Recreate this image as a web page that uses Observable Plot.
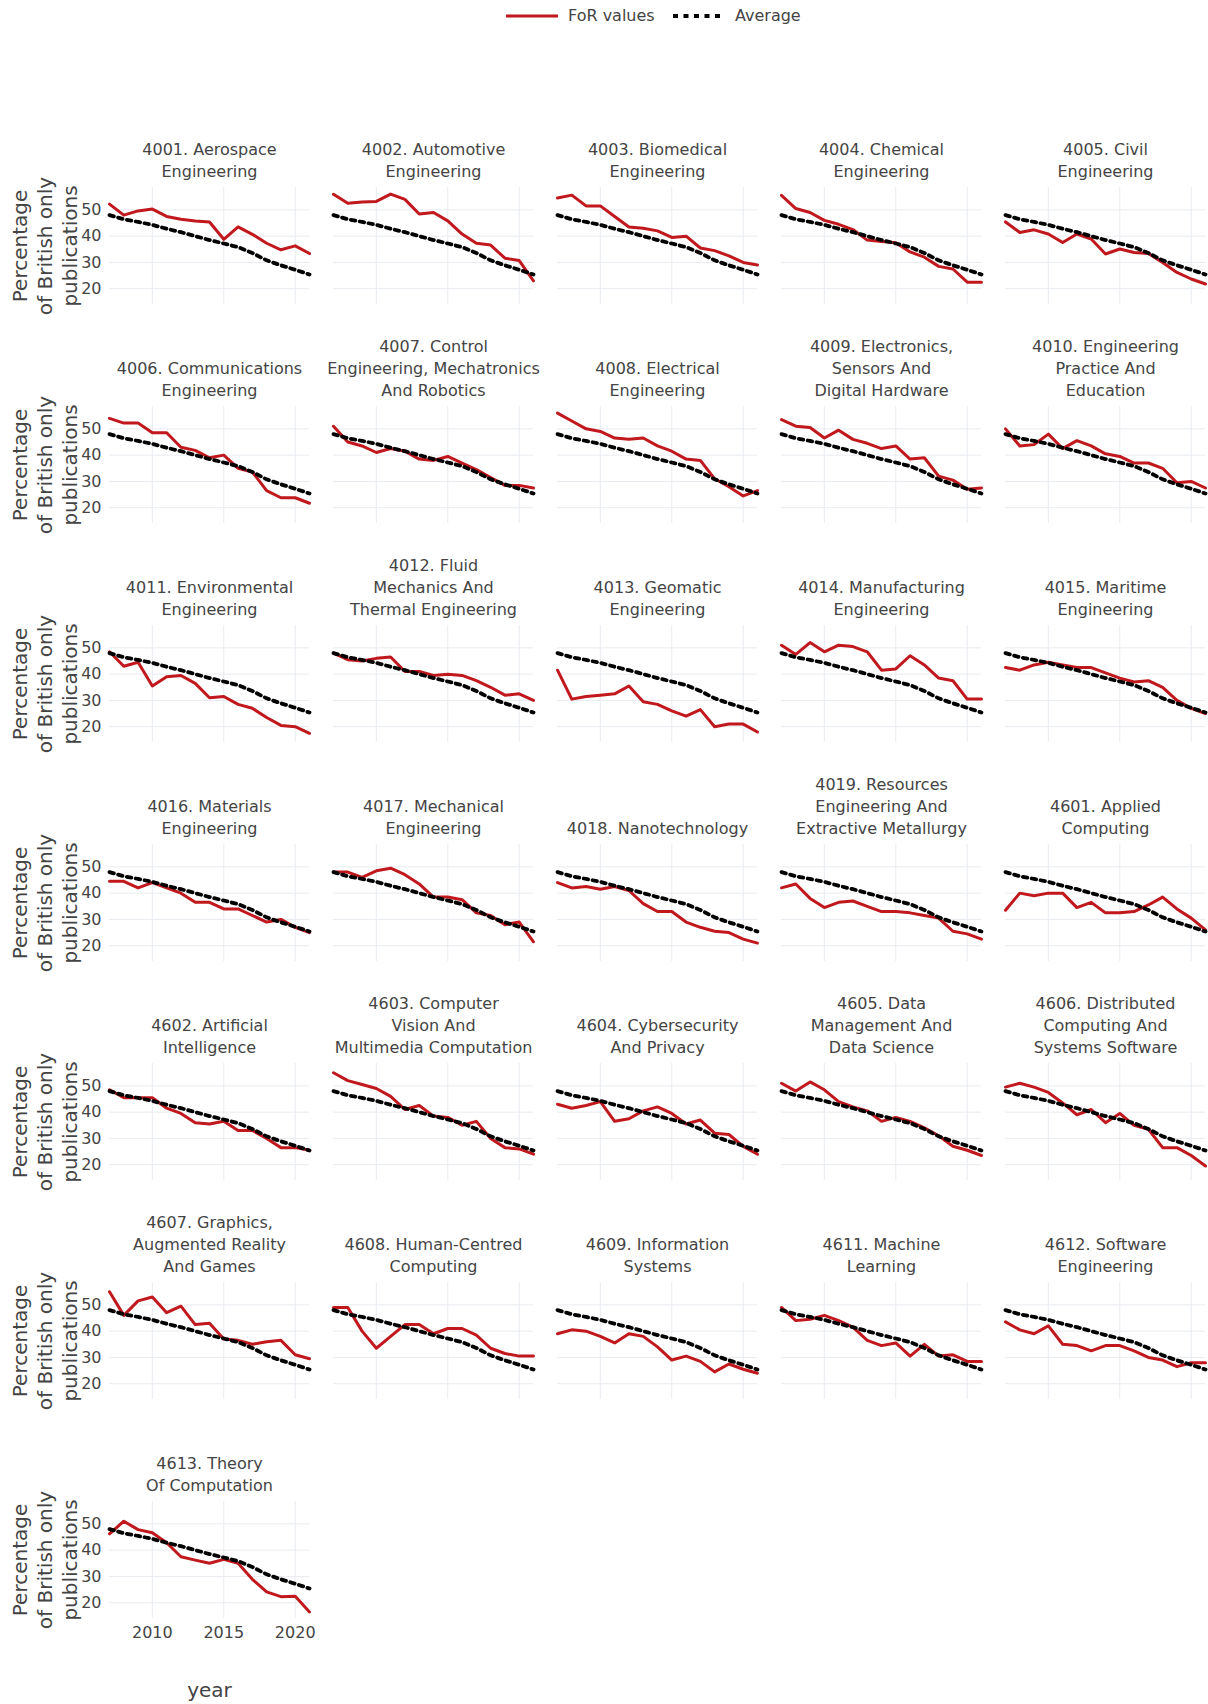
<!DOCTYPE html>
<html>
<head>
<meta charset="utf-8">
<script src="https://cdn.jsdelivr.net/npm/d3@7"></script>
<script src="https://cdn.jsdelivr.net/npm/@observablehq/plot@0.6"></script>
<style>
  html, body { margin: 0; padding: 0; background: #fff; }
  #legend { position: relative; width: 1208px; height: 36px; font: 16px "DejaVu Sans", Verdana, sans-serif; color: #444; }
  #legend span { position: absolute; top: 6px; line-height: 20px; white-space: nowrap; }
  #legend svg { position: absolute; top: 10px; }
</style>
</head>
<body>
<div id="legend">
  <svg style="left:506px" width="52" height="12"><line x1="0" x2="52" y1="6" y2="6" stroke="#c0181c" stroke-width="3"/></svg>
  <span style="left:568px">FoR values</span>
  <svg style="left:673px" width="48" height="12"><line x1="0" x2="48" y1="6" y2="6" stroke="#000" stroke-width="4" stroke-dasharray="5,5.5"/></svg>
  <span style="left:735px">Average</span>
</div>
<div id="chart"></div>
<script>
// Publication years on the x axis
const years = [2007, 2008, 2009, 2010, 2011, 2012, 2013, 2014, 2015, 2016, 2017, 2018, 2019, 2020, 2021];

// Field of Research (FoR) panel titles, in facet order
const fieldTitles = [
  "4001. Aerospace\nEngineering",
  "4002. Automotive\nEngineering",
  "4003. Biomedical\nEngineering",
  "4004. Chemical\nEngineering",
  "4005. Civil\nEngineering",
  "4006. Communications\nEngineering",
  "4007. Control\nEngineering, Mechatronics\nAnd Robotics",
  "4008. Electrical\nEngineering",
  "4009. Electronics,\nSensors And\nDigital Hardware",
  "4010. Engineering\nPractice And\nEducation",
  "4011. Environmental\nEngineering",
  "4012. Fluid\nMechanics And\nThermal Engineering",
  "4013. Geomatic\nEngineering",
  "4014. Manufacturing\nEngineering",
  "4015. Maritime\nEngineering",
  "4016. Materials\nEngineering",
  "4017. Mechanical\nEngineering",
  "4018. Nanotechnology",
  "4019. Resources\nEngineering And\nExtractive Metallurgy",
  "4601. Applied\nComputing",
  "4602. Artificial\nIntelligence",
  "4603. Computer\nVision And\nMultimedia Computation",
  "4604. Cybersecurity\nAnd Privacy",
  "4605. Data\nManagement And\nData Science",
  "4606. Distributed\nComputing And\nSystems Software",
  "4607. Graphics,\nAugmented Reality\nAnd Games",
  "4608. Human-Centred\nComputing",
  "4609. Information\nSystems",
  "4611. Machine\nLearning",
  "4612. Software\nEngineering",
  "4613. Theory\nOf Computation"
];

// Percentage of British-only publications per field, 2007–2021
const forValues = [
  [52.2, 48.0, 49.6, 50.3, 47.5, 46.4, 45.8, 45.4, 38.8, 43.5, 40.7, 37.3, 34.8, 36.3, 33.4],
  [55.9, 52.5, 53.0, 53.2, 56.0, 54.0, 48.4, 49.0, 45.8, 40.8, 37.3, 36.6, 31.6, 30.7, 23.0],
  [54.5, 55.6, 51.5, 51.5, 47.5, 43.5, 43.0, 42.0, 39.5, 40.0, 35.5, 34.5, 32.5, 30.0, 29.0],
  [55.5, 50.5, 49.0, 46.0, 44.5, 42.5, 38.5, 38.0, 37.5, 34.0, 32.0, 28.5, 27.5, 22.5, 22.5],
  [45.4, 41.4, 42.4, 40.8, 37.6, 40.8, 38.9, 33.2, 35.1, 33.8, 33.4, 30.0, 26.2, 23.7, 21.8],
  [54.0, 52.2, 52.2, 48.5, 48.5, 43.0, 41.8, 39.0, 40.0, 35.0, 33.6, 26.5, 23.8, 23.8, 21.7],
  [51.0, 45.0, 43.5, 41.0, 42.5, 41.5, 38.5, 38.0, 39.5, 37.0, 34.5, 31.5, 28.5, 28.5, 27.5],
  [56.0, 53.0, 50.0, 49.0, 46.5, 46.0, 46.5, 43.5, 41.5, 38.5, 38.0, 31.0, 28.0, 24.5, 26.5],
  [53.5, 51.0, 50.5, 46.5, 49.5, 46.0, 44.5, 42.5, 43.5, 38.5, 39.0, 32.0, 30.5, 27.0, 27.5],
  [50.0, 43.5, 44.0, 48.0, 42.5, 45.5, 43.5, 40.5, 39.5, 37.0, 37.0, 35.0, 29.5, 30.0, 27.5],
  [48.5, 43.0, 44.5, 35.5, 39.0, 39.5, 36.5, 31.0, 31.5, 28.5, 27.0, 23.5, 20.5, 20.0, 17.5],
  [48.0, 45.5, 45.0, 46.0, 46.5, 41.0, 41.0, 39.5, 40.0, 39.5, 37.5, 35.0, 32.0, 32.5, 30.0],
  [41.5, 30.5, 31.5, 32.0, 32.5, 35.5, 29.5, 28.5, 26.0, 24.0, 26.5, 20.0, 21.0, 21.0, 18.0],
  [51.0, 47.5, 52.0, 48.5, 51.0, 50.5, 48.5, 41.5, 42.0, 47.0, 43.5, 38.5, 37.5, 30.5, 30.5],
  [42.5, 41.5, 43.5, 44.5, 43.5, 42.5, 42.5, 40.5, 38.5, 37.0, 37.5, 35.0, 30.0, 27.0, 25.0],
  [44.5, 44.5, 42.0, 44.0, 42.0, 40.0, 36.5, 36.5, 34.0, 34.0, 31.5, 29.0, 30.0, 27.0, 25.0],
  [48.0, 48.0, 46.0, 48.5, 49.5, 47.0, 43.5, 38.5, 38.5, 37.5, 32.5, 31.5, 28.0, 29.0, 21.5],
  [44.0, 42.0, 42.5, 41.5, 42.5, 41.0, 36.0, 33.0, 33.0, 29.0, 27.0, 25.5, 25.0, 22.5, 21.0],
  [42.0, 43.5, 38.0, 34.5, 36.5, 37.0, 35.0, 33.0, 33.0, 32.5, 31.5, 30.5, 25.5, 24.5, 22.5],
  [33.5, 40.0, 39.0, 40.0, 40.0, 34.5, 36.5, 32.5, 32.5, 33.0, 35.5, 38.5, 34.0, 30.5, 26.0],
  [48.5, 45.5, 45.5, 45.5, 41.5, 39.5, 36.0, 35.5, 36.5, 33.0, 33.0, 30.0, 26.5, 26.5, 25.5],
  [55.0, 52.0, 50.5, 49.0, 46.0, 41.0, 42.5, 38.5, 38.0, 35.0, 36.5, 30.0, 26.5, 26.0, 24.0],
  [43.0, 41.5, 42.5, 44.0, 36.5, 37.5, 40.5, 42.0, 39.5, 35.5, 37.0, 32.0, 31.5, 27.0, 24.0],
  [51.0, 48.0, 51.5, 48.5, 44.0, 42.0, 40.5, 36.5, 38.0, 36.5, 34.0, 31.0, 27.0, 25.5, 23.5],
  [49.5, 51.0, 49.5, 47.5, 43.5, 39.0, 41.0, 36.0, 39.5, 35.0, 33.5, 26.5, 26.5, 23.5, 19.5],
  [55.0, 46.0, 51.5, 53.0, 47.0, 49.5, 42.5, 43.0, 37.0, 36.5, 35.0, 36.0, 36.5, 31.0, 29.5],
  [49.0, 49.0, 40.0, 33.5, 38.0, 42.5, 42.5, 39.0, 41.0, 41.0, 38.5, 33.5, 31.5, 30.5, 30.5],
  [39.0, 40.5, 40.0, 38.0, 35.5, 39.0, 38.0, 34.0, 29.0, 30.5, 28.5, 24.5, 27.5, 25.5, 24.0],
  [49.0, 44.0, 44.5, 46.0, 44.0, 41.5, 36.5, 34.5, 35.5, 30.5, 35.0, 30.5, 31.0, 28.5, 28.5],
  [43.5, 40.5, 39.0, 42.0, 35.0, 34.5, 32.5, 34.5, 34.5, 32.5, 30.0, 29.0, 26.5, 28.0, 28.0],
  [46.2, 51.0, 47.8, 46.6, 42.8, 37.5, 36.2, 35.0, 36.5, 35.0, 28.9, 24.1, 22.3, 22.5, 16.5]
];

// Average across all fields, repeated in every panel
const average = [48.0, 46.4, 45.4, 44.3, 42.8, 41.5, 40.0, 38.5, 37.2, 35.8, 33.6, 30.8, 28.9, 27.2, 25.4];

const yTicks = [20, 30, 40, 50];
const xTicks = [2010, 2015, 2020];
const red = "#c0181c";
const ink = "#444";
const nCols = 5;

// Facet layout: five columns, wrapping into rows
const panels = fieldTitles.map((title, i) => ({key: i, title, col: i % nCols, row: Math.floor(i / nCols)}));
const nRows = d3.max(panels, d => d.row) + 1;
const forRows = panels.flatMap(p => years.map((year, j) => ({key: p.key, col: p.col, row: p.row, year, value: forValues[p.key][j]})));
const avgRows = panels.flatMap(p => years.map((year, j) => ({key: p.key, col: p.col, row: p.row, year, value: average[j]})));
const rowStarts = d3.range(nRows).map(row => ({col: 0, row}));
const lastPanel = panels[panels.length - 1];
// Year labels only under the last panel (the only one in the bottom row)
const xTickRows = xTicks.map(year => ({col: lastPanel.col, row: lastPanel.row, year}));

const chart = Plot.plot({
  width: 1208,
  height: 1668,
  marginLeft: 107,
  marginRight: 1,
  marginTop: 149,
  marginBottom: 85,
  style: {fontFamily: "'DejaVu Sans', Verdana, sans-serif", fontSize: "16px", color: ink, background: "#fff", overflow: "visible"},
  fx: {axis: null, domain: d3.range(nCols), paddingInner: 0.1057, paddingOuter: 0},
  fy: {axis: null, domain: d3.range(nRows), paddingInner: 0.467, paddingOuter: 0},
  x: {axis: null, domain: [2007, 2021]},
  y: {domain: [14, 58.5]},
  marks: [
    Plot.gridX(xTicks, {stroke: "#e8ebf0", strokeOpacity: 1, strokeWidth: 1}),
    Plot.gridY(yTicks, {stroke: "#e8ebf0", strokeOpacity: 1, strokeWidth: 1}),
    Plot.axisY(yTicks, {tickSize: 0, tickPadding: 8, label: null, facetAnchor: "left", fontSize: 16, fill: ink}),
    Plot.text(xTickRows, {x: "year", fx: "col", fy: "row", text: d => String(d.year), frameAnchor: "bottom", lineAnchor: "top", dy: 8, fontSize: 16, fill: ink}),
    Plot.lineY(forRows, {x: "year", y: "value", z: "key", fx: "col", fy: "row", stroke: red, strokeWidth: 3}),
    Plot.lineY(avgRows, {x: "year", y: "value", z: "key", fx: "col", fy: "row", stroke: "#000", strokeWidth: 3.8, strokeDasharray: "4.5,4.5"}),
    Plot.text(panels, {fx: "col", fy: "row", text: "title", frameAnchor: "top", textAnchor: "middle", lineAnchor: "bottom", dy: -11, fontSize: 16, lineHeight: 1.36, fill: ink}),
    Plot.text(rowStarts, {fx: "col", fy: "row", text: () => "Percentage\nof British only\npublications", frameAnchor: "left", textAnchor: "middle", lineAnchor: "middle", rotate: -90, dx: -66, fontSize: 20, lineHeight: 1.25, fill: ink}),
    Plot.text([lastPanel], {fx: "col", fy: "row", text: () => "year", frameAnchor: "bottom", textAnchor: "middle", lineAnchor: "middle", dy: 72, fontSize: 20, fill: ink})
  ]
});

document.getElementById("chart").appendChild(chart);
</script>
</body>
</html>
